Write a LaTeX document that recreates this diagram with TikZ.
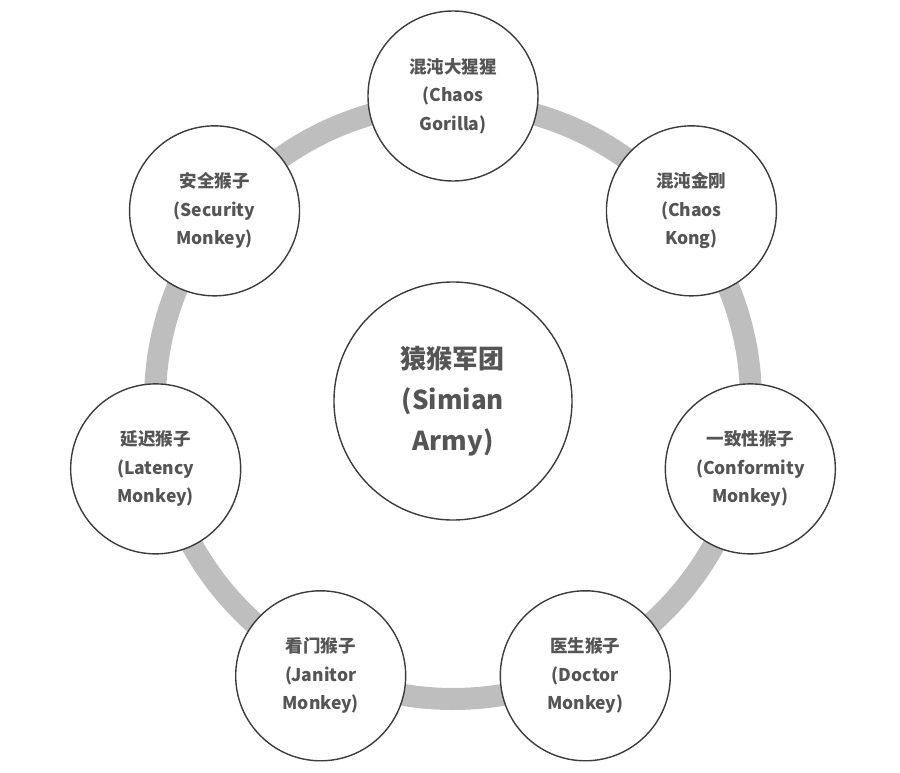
\documentclass[tikz,border=0pt]{standalone}
\usepackage{fontspec}
\setmainfont{Noto Sans CJK SC}
\usepackage{xcolor}
\usepackage{tikz}
\usetikzlibrary{positioning}
\definecolor{ringgray}{RGB}{190,190,190}
\definecolor{edgegray}{RGB}{60,60,60}
\definecolor{textgray}{RGB}{85,85,85}
\tikzstyle{monkey} = [circle, draw=edgegray, line width=1.4pt, fill=white, minimum size=170pt, inner sep=0pt, align=center, text=textgray, font=\fontsize{17.5}{28.5}\selectfont\bfseries]
\tikzstyle{army} = [circle, draw=edgegray, line width=1.4pt, fill=white, minimum size=238pt, inner sep=0pt, align=center, text=textgray, font=\fontsize{26}{41}\selectfont\bfseries]
\tikzstyle{ring} = [draw=ringgray, line width=22pt]

\begin{document}
\begin{tikzpicture}[x=1pt, y=1pt]
\useasboundingbox (-453,-371) rectangle (447,401);
\node (SA) [army] {猿猴军团\\(Simian\\Army)};
\draw [ring] (SA.center) circle (298);
\node (CG) [monkey] at (90:305) {混沌大猩猩\\(Chaos\\Gorilla)};
\node (CK) [monkey] at (38.57:305) {混沌金刚\\(Chaos\\Kong)};
\node (CM) [monkey] at (-12.86:305) {一致性猴子\\(Conformity\\Monkey)};
\node (DM) [monkey] at (-64.29:305) {医生猴子\\(Doctor\\Monkey)};
\node (JM) [monkey] at (-115.71:305) {看门猴子\\(Janitor\\Monkey)};
\node (LM) [monkey] at (-167.14:305) {延迟猴子\\(Latency\\Monkey)};
\node (SM) [monkey] at (141.43:305) {安全猴子\\(Security\\Monkey)};
\end{tikzpicture}
\end{document}
